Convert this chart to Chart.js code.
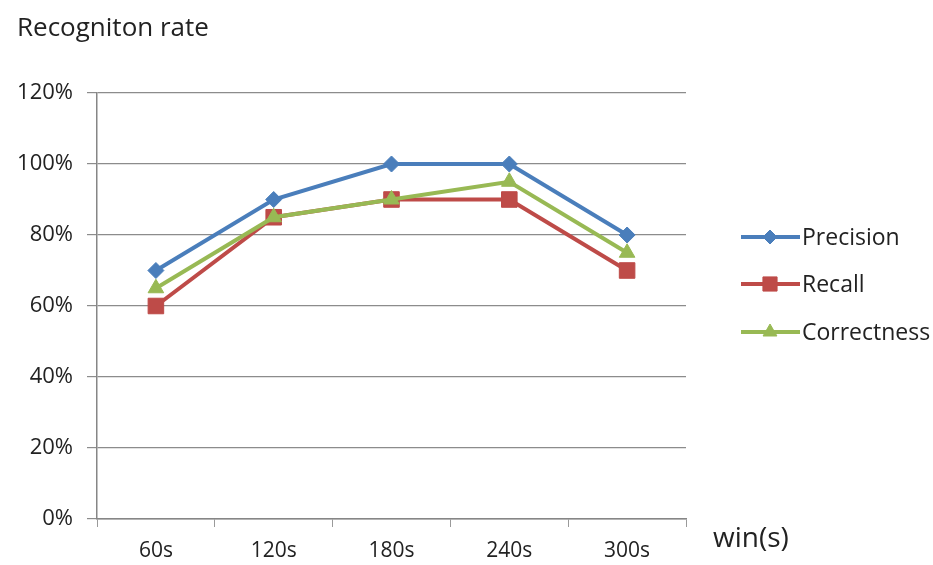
<!DOCTYPE html>
<html lang="en">
<head>
  <meta charset="UTF-8">
  <title>Recogniton rate</title>
  <script src="https://cdn.jsdelivr.net/npm/chart.js@4.4.0/dist/chart.umd.min.js"></script>
  <style>
    body { margin: 0; background: #ffffff; }
    .wrap { width: 933px; height: 565px; }
  </style>
</head>
<body>
  <div class="wrap"><canvas id="rate-chart" width="933" height="565"></canvas></div>
  <script>
    // data
    const windows = ['60s', '120s', '180s', '240s', '300s'];
    const precision = [70, 90, 100, 100, 80];
    const recall = [60, 85, 90, 90, 70];
    const correctness = [65, 85, 90, 95, 75];

    const FONT = "'Open Sans', 'DejaVu Sans', sans-serif";

    // draws the title, axis name and the legend on the right
    const extras = {
      id: 'extras',
      afterDraw(chart) {
        const ctx = chart.ctx;
        ctx.save();
        ctx.fillStyle = '#222';
        ctx.font = '26px ' + FONT;
        ctx.textBaseline = 'middle';
        ctx.fillText('Recogniton rate', 17, 29);
        ctx.font = '28px ' + FONT;
        ctx.fillText('win(s)', 713, 539);

        const rows = [237, 284, 332];
        ctx.font = '23px ' + FONT;
        chart.data.datasets.forEach((ds, i) => {
          const y = rows[i];
          ctx.strokeStyle = ds.borderColor;
          ctx.lineWidth = 4;
          ctx.beginPath();
          ctx.moveTo(741, y);
          ctx.lineTo(800, y);
          ctx.stroke();
          ctx.fillStyle = ds.borderColor;
          ctx.lineWidth = 1;
          Chart.helpers.drawPoint(ctx, {
            pointStyle: ds.pointStyle,
            radius: ds.pointRadius - 1,
            rotation: 0,
            borderWidth: 1
          }, 770, y);
          ctx.fillStyle = '#222';
          ctx.fillText(ds.label, 802, y + 1);
        });
        ctx.restore();
      }
    };

    const ctx = document.getElementById('rate-chart').getContext('2d');
    const chart = new Chart(ctx, {
      type: 'line',
      data: {
        labels: windows,
        datasets: [
          {
            label: 'Precision',
            data: precision,
            borderColor: '#4a7ebb',
            backgroundColor: '#4a7ebb',
            borderWidth: 4,
            pointStyle: 'rectRot',
            pointRadius: 8,
            pointBorderWidth: 1,
            order: 0
          },
          {
            label: 'Recall',
            data: recall,
            borderColor: '#be4b48',
            backgroundColor: '#be4b48',
            borderWidth: 4,
            pointStyle: 'rect',
            pointRadius: 11,
            pointBorderWidth: 1,
            order: 2
          },
          {
            label: 'Correctness',
            data: correctness,
            borderColor: '#98b954',
            backgroundColor: '#98b954',
            borderWidth: 4,
            pointStyle: 'triangle',
            pointRadius: 9,
            pointBorderWidth: 1,
            order: 1
          }
        ]
      },
      options: {
        responsive: false,
        animation: false,
        layout: { padding: { top: 93, right: 247, left: 0, bottom: 0 } },
        plugins: {
          legend: { display: false },
          tooltip: { enabled: false }
        },
        scales: {
          x: {
            offset: true,
            grid: {
              offset: true,
              drawOnChartArea: false,
              color: '#9a9a9a',
              tickLength: 8
            },
            border: { color: '#868686', width: 1.5 },
            ticks: { color: '#222', font: { family: FONT, size: 21 }, padding: 11 },
            afterFit(s) { s.height = 46; }
          },
          y: {
            min: 0,
            max: 120,
            ticks: {
              stepSize: 20,
              color: '#222',
              font: { family: FONT, size: 22 },
              padding: 14,
              callback: v => v + '%'
            },
            grid: { color: '#8c8c8c', lineWidth: 1.2, tickLength: 10 },
            border: { color: '#868686', width: 1.5 },
            afterFit(s) { s.width = 97; }
          }
        }
      },
      plugins: [extras]
    });
  </script>
</body>
</html>
